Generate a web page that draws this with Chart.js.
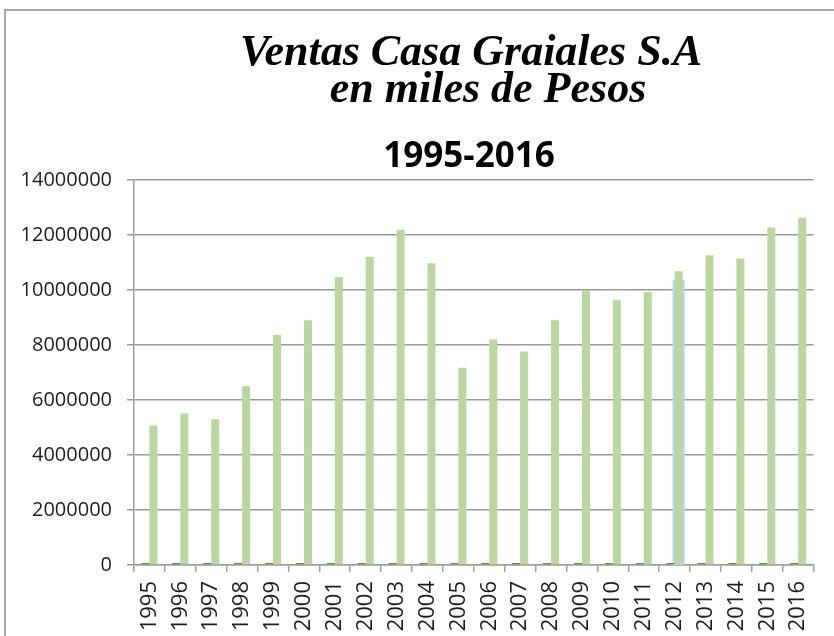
<!DOCTYPE html>
<html>
<head>
<meta charset="utf-8">
<script src="https://cdn.jsdelivr.net/npm/chart.js@4/dist/chart.umd.min.js"></script>
<style>
  html, body { margin: 0; padding: 0; background: #fff; }
  #frame {
    position: absolute; left: 4px; top: 9px; width: 830px; height: 627px;
    border-top: 2px solid #a9a9a9; border-left: 2px solid #a9a9a9;
  }
  #chart { position: absolute; left: 0; top: 0; }
</style>
</head>
<body>
<div id="frame"></div>
<canvas id="chart" width="834" height="636"></canvas>
<script>
const years = ['1995', '1996', '1997', '1998', '1999', '2000', '2001', '2002', '2003', '2004', '2005',
  '2006', '2007', '2008', '2009', '2010', '2011', '2012', '2013', '2014', '2015', '2016']
// "Año" series got plotted too, so it shows up as tiny marks on the baseline
const yearSeries = [1995, 1996, 1997, 1998, 1999, 2000, 2001, 2002, 2003, 2004, 2005,
  2006, 2007, 2008, 2009, 2010, 2011, 2012, 2013, 2014, 2015, 2016]
const ventas = [5070000, 5510000, 5300000, 6500000, 8370000, 8900000, 10470000, 11210000,
  12190000, 10970000, 7170000, 8210000, 7760000, 8900000, 9990000, 9630000, 9930000,
  10680000, 11260000, 11150000, 12270000, 12630000]
const yMin = 0
const yMax = 14000000
const yStep = 2000000
const titleLines = ['Ventas Casa Graiales S.A', 'en miles de Pesos']
const subtitle = '1995-2016'
// selected point in the original (blue outline behind the bar)
const selectedYear = '2012'
const selectedValue = 10360000

const headerPlugin = {
  id: 'header',
  afterDraw(chart) {
    const { ctx } = chart
    ctx.save()
    ctx.fillStyle = '#000'
    ctx.textAlign = 'center'
    ctx.textBaseline = 'alphabetic'
    ctx.font = 'italic bold 44px "Liberation Serif"'
    ctx.fillText(titleLines[0], 471, 65)
    ctx.fillText(titleLines[1], 488, 102)
    ctx.font = 'bold 35px "Open Sans"'
    ctx.fillText(subtitle, 469, 167)
    ctx.restore()
  },
}

const selectionPlugin = {
  id: 'selection',
  beforeDatasetsDraw(chart) {
    const idx = years.indexOf(selectedYear)
    const bar = chart.getDatasetMeta(1).data[idx]
    if (!bar) return
    const y = chart.scales.y
    const top = y.getPixelForValue(selectedValue)
    const bottom = y.getPixelForValue(0)
    const ctx = chart.ctx
    ctx.save()
    ctx.fillStyle = '#a9d9f2'
    ctx.fillRect(bar.x - bar.width / 2 - 2, top, bar.width + 4, bottom - top)
    ctx.restore()
  },
}

const ctx = document.getElementById('chart')

new Chart(ctx, {
  type: 'bar',
  data: {
    labels: years,
    datasets: [
      {
        label: 'Año',
        data: yearSeries,
        backgroundColor: '#6f8f35',
        minBarLength: 2,
        categoryPercentage: 0.52,
        barPercentage: 1,
      },
      {
        label: 'Ventas',
        data: ventas,
        backgroundColor: '#bbd6a0',
        categoryPercentage: 0.52,
        barPercentage: 1,
      },
    ],
  },
  options: {
    responsive: false,
    animation: false,
    layout: { padding: { top: 180, right: 19, left: 0, bottom: 0 } },
    plugins: {
      legend: { display: false },
      tooltip: { enabled: false },
    },
    scales: {
      x: {
        afterFit: (scale) => { scale.height = 71 },
        grid: {
          drawOnChartArea: false,
          drawTicks: true,
          tickLength: 7,
          color: '#a0a0a0',
          lineWidth: 1.5,
        },
        border: { color: '#a0a0a0', width: 1.5 },
        ticks: {
          minRotation: 90,
          maxRotation: 90,
          autoSkip: false,
          padding: 9,
          color: '#1e1e1e',
          font: { family: 'Open Sans', size: 22 },
        },
      },
      y: {
        min: yMin,
        max: yMax,
        afterFit: (scale) => { scale.width = 134 },
        grid: {
          color: '#9a9a9a',
          lineWidth: 1.5,
          tickLength: 7,
        },
        border: { color: '#a0a0a0', width: 1.5 },
        ticks: {
          stepSize: yStep,
          padding: 15,
          color: '#1e1e1e',
          font: { family: 'Open Sans', size: 20 },
          callback: (v) => String(v),
        },
      },
    },
  },
  plugins: [selectionPlugin, headerPlugin],
})
</script>
</body>
</html>
